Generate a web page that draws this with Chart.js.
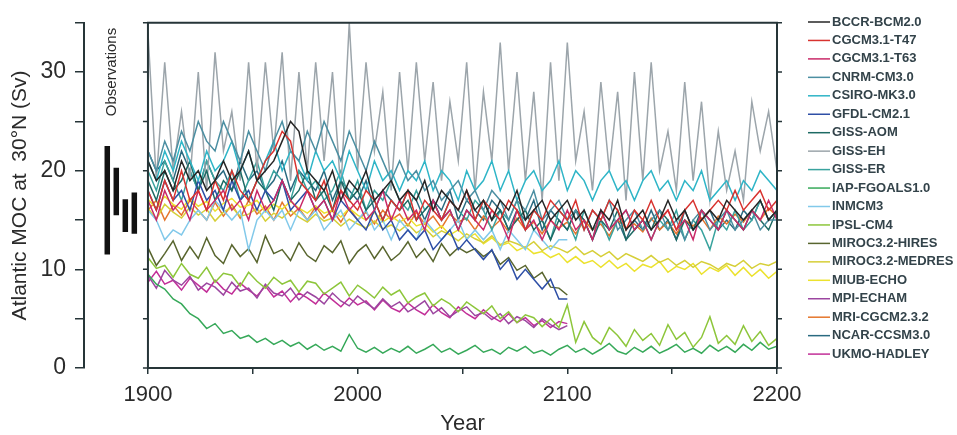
<!DOCTYPE html>
<html>
<head>
<meta charset="utf-8">
<script src="https://cdn.jsdelivr.net/npm/chart.js@4.4.1/dist/chart.umd.min.js"></script>
<style>
  html, body { margin: 0; padding: 0; background: #fff; }
  #wrap { width: 957px; height: 435px; position: relative; }
</style>
</head>
<body>
<div id="wrap"><canvas id="grafico-moc"></canvas></div>
<script>
// séries anuais (passo de 4 anos a partir de 1900)
const MODELOS = ['BCCR-BCM2.0', 'CGCM3.1-T47', 'CGCM3.1-T63', 'CNRM-CM3.0', 'CSIRO-MK3.0', 'GFDL-CM2.1',
    'GISS-AOM', 'GISS-EH', 'GISS-ER', 'IAP-FGOALS1.0', 'INMCM3', 'IPSL-CM4', 'MIROC3.2-HIRES',
    'MIROC3.2-MEDRES', 'MIUB-ECHO', 'MPI-ECHAM', 'MRI-CGCM2.3.2', 'NCAR-CCSM3.0', 'UKMO-HADLEY'];

const ANO_INICIAL = 1900;
const PASSO = 4;
const X_TICKS = [1900, 1950, 2000, 2050, 2100, 2150, 2200];
const Y_TICKS_MAX = 35;

const BCCR = [21,19,20,18,21,19,20,18,19,21, 19,20,22,19,20,21,23,25,24,20, 19,18,20,17,19,18,20,17,18,19,
    17,18,17,19,16,18,17,16,18,16, 17,15,17,16,18,15,16,17,15,16, 17,15,16,14,16,15,17,14,15,16,
    14,15,17,15,16,14,15,16,15,17, 16,15,16,17,15,16];
const CGCM_T47 = [18,16,19,17,20,17,18,16,19,17, 20,18,17,19,21,22,24,23,19,18, 17,19,16,18,17,16,18,17,15,17,
    16,18,15,17,16,15,17,16,18,15, 17,16,15,17,16,14,16,15,17,16, 15,17,14,16,15,17,16,14,16,15,
    17,15,16,14,16,17,15,16,17,16, 18,16,17,18,16,17];
const CGCM_T63 = [17,15,18,16,17,15,18,16,17,18, 16,17,15,18,16,17,19,17,16,18, 16,17,15,18,16,17,15,16,18,15,
    17,15,16,14,17,15,16,14,16,15, 14,16,15,13,16,14,15,13,15,14, 16,14,15,13,16,14,15,16,14,15,
    13,15,16,14,15,13,16,15,14,16, 15,14,16,15,17,15];
const CNRM = [22,20,23,21,24,22,25,23,22,25, 23,21,24,22,20,23,25,22,21,24, 22,25,23,21,24,22,20,23,21,19,
    21,19,20,18,19,17,18,19,17,18, 16,18,17,15,17,16,18,15,16,17, 15,16,14,16,15,17,14,15,16,14,
    15,16,14,15,13,15,16,14,15,16, 14,15,16,14,15,15];
const CSIRO = [21,19,22,20,23,21,19,22,20,21, 23,20,22,19,21,23,20,22,21,19, 22,20,21,19,22,20,18,21,19,20,
    18,20,19,21,18,20,19,17,20,18, 19,21,18,20,17,19,20,18,19,21, 18,20,19,17,19,20,18,19,17,19,
    20,18,19,17,19,18,20,17,18,19, 17,19,18,20,19,18];
const GFDL = [18,16,19,17,18,16,19,17,18,16, 19,17,18,16,18,17,19,16,17,18, 16,17,15,17,16,15,14,16,14,15,
    13,14,13,14,12,13,14,12,13,12, 11,12,10,11,9,10,9,8,9,7, 7];
const GISS_AOM = [19,17,20,18,19,21,18,20,17,19, 18,20,17,19,18,16,19,17,18,20, 17,18,16,19,17,18,16,17,15,17,
    16,17,15,16,17,15,16,14,16,15, 17,15,16,14,15,16,14,15,13,15, 14,16,15,13,15,14,16,13,14,15,
    14,16,15,13,15,14,16,15,14,16, 15,14,16,15,14,16];
const GISS_EH = [34,19,31,20,26,19,30,18,32,22, 26,19,31,20,31,22,32,19,30,20, 31,21,30,18,35,20,31,22,28,18,
    30,20,31,21,29,19,27,21,31,18, 28,21,33,20,30,19,28,17,31,19, 33,21,26,18,29,20,28,17,30,19,
    31,20,24,18,29,19,27,17,24,18, 22,17,27,22,26,20];
const GISS_ER = [20,18,21,19,17,20,18,21,19,18, 20,17,19,21,18,20,19,17,20,18, 19,17,18,20,17,19,16,18,17,19,
    17,16,18,16,17,15,17,16,15,17, 16,14,16,15,17,14,16,15,13,16, 15,13,16,14,15,13,15,16,14,15,
    13,15,14,16,13,15,14,12,15,14, 16,14,15,17,15,16];
const IAP = [9.5,8.5,8,7,6.5,5.5,5,4,4.5,3.5, 3.8,3,3.3,2.6,3,2.4,2.8,2.2,2.6,1.9, 2.4,1.8,2.2,1.7,3.4,2,1.6,2.1,1.5,2,
    1.6,2.2,1.5,1.9,2.4,1.6,2,1.4,1.8,2.3, 1.6,1.9,1.4,2.1,1.7,2.2,1.5,1.8,1.3,1.9, 2.3,1.6,2,1.4,1.9,2.5,1.7,1.4,2.1,1.6,
    2.2,1.5,1.9,2.4,1.6,2,1.5,2.3,1.7,2.2, 1.6,2.4,1.8,2.6,1.9,2.2];
const INMCM = [16,15,13,14,13.5,15,16,15,17,16, 15,16,12,15,16,15,16,14,16,15, 16,14,15,16,14,15,16,14,15,13,
    15,14,13,15,14,13,14,15,13,14, 13,14,12,14,13,12,14,13,12,13, 13];
const IPSL = [11.2,10.1,10.4,9.2,10.6,9.5,9.1,10.2,8.7,9.6, 9.4,8.3,9.7,8.8,8.1,9.2,8.5,8.9,7.7,8.8,
    8.6,7.5,8.1,8.7,7.3,8.4,7.8,7.1,8.2,7.4, 7.9,6.6,7.2,7.6,6.3,7,6.5,5.7,6.7,6.1,
    5.5,6.3,5,5.7,4.6,5.4,5.1,4.2,5,4.1, 6.4,2.6,4.7,3.1,2.4,4.1,3.3,2.2,3.9,2.8,
    3.5,2.3,4.4,2.9,3.6,2.1,3.1,5.2,2.5,3.3, 2.4,4.3,2.7,3.7,2.3,3];
const MIROC_HI = [12.2,10.4,11.6,12.9,10.9,12.3,11.1,13.2,11.4,10.6, 12.5,11.3,12.1,10.7,13.4,11.6,12,10.9,12.7,11.4,
    10.8,12.4,11.7,12.9,10.6,11.8,12.5,11.1,12.3,10.9, 11.6,12.8,11.2,12.1,10.8,12.6,11.4,12.2,11.7,12.1,
    11.3,11.9,10.5,11.2,9.9,10.4,9.1,9.7,8.2,8.1, 7.4];
const MIROC_MED = [16.2,15.1,16.6,15.8,15.2,16.3,15.5,16.1,14.9,15.8, 16.3,15.4,15.6,16.2,14.9,15.7,15.2,16,15.3,14.8,
    15.6,14.9,15.2,14.4,15.1,14.6,14.2,14.9,14.1,14.5, 13.9,14.6,13.7,14.2,13.3,13.9,13.5,12.9,13.6,13.1,
    12.7,13.4,12.5,12.9,12.6,12.2,12.8,11.9,12.4,12.1, 11.7,12.3,11.5,11.9,11.3,11.8,11,11.6,11.2,10.8,
    11.4,10.7,11.1,10.4,10.9,10.2,10.8,10.5,10,10.6, 10.3,10.9,10.1,10.6,10.4,10.8];
const MIUB = [17.1,16.2,17.4,16.6,16.1,17.2,16.4,16.9,15.9,16.7, 17.2,16.3,16.5,17,15.8,16.6,16.1,16.9,16.2,15.7,
    16.4,15.7,16,15.3,16.2,15.5,15,15.8,14.8,15.4, 14.8,15.3,14.4,14.7,13.8,14.4,13.5,14,13.2,13.6,
    12.6,13.2,12.4,12.7,11.9,12.3,11.6,11.8,11.2,11.6, 10.7,11.3,10.6,10.9,10.2,10.9,10.1,10.6,9.8,10.5,
    10.2,10.8,9.7,10.3,10,10.6,9.5,10.2,9.8,10.4, 9.4,10.2,9.3,10,9.1,9.8];
const MPI = [9.4,8.1,9.9,8.9,8.4,9.3,7.9,8.6,8.2,7.4, 8.7,7.8,8.1,7.1,8.5,7.6,7.3,8.1,6.9,7.7,
    7.2,6.5,7.6,6.8,6.3,7.3,6.6,6,7,6.2, 6.7,5.7,6.2,6.8,5.5,6.1,5.2,5.8,6.2,5.3,
    5.6,4.9,5.5,4.5,5.2,4.8,4.1,5,4.4,3.9, 4.3];
const MRI = [16,17,15,16.5,15.5,17,16,15,16.8,15.4, 16.6,15.2,17,15.6,16.4,15,16.8,15.4,16.2,15, 16.4,15.2,16,14.8,16.2,15,15.8,14.6,16,15,
    15.6,14.4,15.8,14.6,15.4,14.2,15.6,14.8,15.2,14, 15.4,14.2,15,13.8,15.2,14,14.8,13.6,15,14.2, 14.8,13.6,15,14,14.6,13.4,15,14.2,14.6,13.8,
    15.2,14,14.8,13.6,15,14.4,15.2,14,15.4,14.6, 15.6,14.8,16,15,16.2,15.4];
const NCAR = [22,20,21,19,22,20,18,21,19,20, 18,21,19,20,18,19,21,18,20,19, 18,20,17,19,18,17,19,16,18,17,
    16,18,17,15,17,16,18,15,17,16, 15,17,16,14,16,15,17,14,16,15, 14,16,15,13,16,14,15,13,15,14,
    16,14,15,13,16,14,15,16,14,15, 14,16,15,17,15,16];
const UKMO = [8.7,9.8,8.5,8.9,7.9,9.1,8.4,7.7,8.9,8, 7.5,8.6,7.9,7.3,8.3,7.2,7.8,6.7,7.6,7.1,
    6.5,7.6,6.9,6.2,7.1,6.4,6.8,5.9,6.9,6.1, 5.7,6.6,5.9,5.4,6.4,5.6,5.1,6.2,5.5,5,
    5.9,5.2,4.7,5.5,4.6,5.1,4.3,4.8,4.1,4.7, 4.5];

const SERIES = [BCCR, CGCM_T47, CGCM_T63, CNRM, CSIRO, GFDL, GISS_AOM, GISS_EH, GISS_ER, IAP, INMCM, IPSL,
    MIROC_HI, MIROC_MED, MIUB, MPI, MRI, NCAR, UKMO];

// faixas observadas (Sv)
const OBS_MIN = [11.5, 15.5, 13.8, 13.6];
const OBS_MAX = [22.5, 20.3, 17.1, 17.8];

const CORES = ['#262626', '#d8332f', '#c92a68', '#4c8fa2', '#2fb5c7', '#2e4fa6', '#1d6a64', '#9ca5ab',
    '#39a39e', '#37a95a', '#82c9ea', '#8dc63b', '#58652e', '#d6cf38', '#ece22e', '#9c46a0', '#e5762c',
    '#2a6a80', '#c22f98'];

const COR_EIXO = '#263538';
const FONTE = 'Liberation Sans, Arial, sans-serif';

const datasets = SERIES.map(function(valores, i) {
    return {
        label: MODELOS[i],
        data: valores.map(function(v, k) { return { x: ANO_INICIAL + k * PASSO, y: v }; }),
        borderColor: CORES[i],
        borderWidth: 1.5,
        pointRadius: 0,
        tension: 0,
        fill: false
    };
});

// barras de observação, à esquerda do ano 1900
OBS_MIN.forEach(function(lo, i) {
    const xObs = 1880.6 + i * 4.3;
    datasets.push({
        label: 'obs' + i,
        data: [{ x: xObs, y: lo }, { x: xObs, y: OBS_MAX[i] }],
        borderColor: '#111',
        borderWidth: 5.5,
        borderCapStyle: 'butt',
        pointRadius: 0,
        fill: false
    });
});

const molduraPlugin = {
    id: 'moldura',
    afterDatasetsDraw(chart) {
        const ctx = chart.ctx;
        const x = chart.scales.x, y = chart.scales.y;
        const x0 = x.getPixelForValue(X_TICKS[0]);
        const x1 = x.getPixelForValue(X_TICKS[X_TICKS.length - 1]);
        const yb = y.getPixelForValue(0), yt = y.getPixelForValue(Y_TICKS_MAX);
        ctx.save();
        ctx.strokeStyle = COR_EIXO;
        ctx.lineWidth = 2;
        ctx.beginPath();
        ctx.moveTo(x0, yt); ctx.lineTo(x1, yt); ctx.lineTo(x1, yb); ctx.lineTo(x0, yb); ctx.closePath();
        ctx.stroke();
        ctx.lineWidth = 1.5;
        y.ticks.forEach(function(t) {
            const py = y.getPixelForValue(t.value);
            ctx.beginPath();
            ctx.moveTo(x0 - 5, py); ctx.lineTo(x0, py);
            ctx.moveTo(x1, py); ctx.lineTo(x1 + 5, py);
            ctx.stroke();
        });
        ctx.restore();
    },
    afterDraw(chart) {
        const ctx = chart.ctx;
        const x = chart.scales.x;
        const x0 = x.getPixelForValue(X_TICKS[0]);
        const x1 = x.getPixelForValue(X_TICKS[X_TICKS.length - 1]);
        ctx.save();
        // título do eixo x
        ctx.fillStyle = '#2b2b2b';
        ctx.font = '22px ' + FONTE;
        ctx.textAlign = 'center';
        ctx.textBaseline = 'middle';
        ctx.fillText('Year', (x0 + x1) / 2, 424);
        // rótulo das observações
        ctx.save();
        ctx.translate(112, 72);
        ctx.rotate(-Math.PI / 2);
        ctx.font = '15px ' + FONTE;
        ctx.fillText('Observations', 0, 0);
        ctx.restore();
        // legenda
        ctx.font = 'bold 13px ' + FONTE;
        ctx.textAlign = 'left';
        MODELOS.forEach(function(nome, i) {
            const ly = 22 + i * 18.45;
            ctx.strokeStyle = CORES[i];
            ctx.lineWidth = 1.5;
            ctx.beginPath();
            ctx.moveTo(808, ly); ctx.lineTo(830, ly);
            ctx.stroke();
            ctx.fillStyle = '#33434a';
            ctx.fillText(nome, 832, ly);
        });
        ctx.restore();
    }
};

new Chart(document.getElementById('grafico-moc'), {
    type: 'line',
    data: { datasets: datasets },
    options: {
        responsive: true,
        maintainAspectRatio: false,
        animation: false,
        layout: { padding: { top: 13, right: 180, left: 0, bottom: 0 } },
        plugins: { legend: { display: false }, tooltip: { enabled: false } },
        scales: {
            x: {
                type: 'linear',
                min: 1869.5,
                max: 2200,
                afterBuildTicks: function(scale) {
                    scale.ticks = X_TICKS.map(function(v) { return { value: v }; });
                },
                afterFit: function(scale) { scale.height = 67; },
                border: { display: false },
                grid: { drawOnChartArea: false, drawTicks: true, tickLength: 6, color: COR_EIXO, lineWidth: 1.5 },
                ticks: {
                    autoSkip: false,
                    maxRotation: 0,
                    padding: 8,
                    color: '#2b2b2b',
                    font: { family: FONTE, size: 22 },
                    callback: function(v) { return v % 100 === 0 ? String(v) : ''; }
                }
            },
            y: {
                min: 0,
                max: Y_TICKS_MAX,
                afterFit: function(scale) { scale.width = 84; },
                border: { display: true, color: COR_EIXO, width: 2 },
                grid: { drawOnChartArea: false, drawTicks: true, tickLength: 9, color: COR_EIXO, lineWidth: 1.5 },
                ticks: {
                    stepSize: 5,
                    autoSkip: false,
                    padding: 9,
                    color: '#2b2b2b',
                    font: { family: FONTE, size: 23 },
                    callback: function(v) { return v % 10 === 0 ? String(v) : ''; }
                },
                title: {
                    display: true,
                    text: 'Atlantic MOC at  30°N (Sv)',
                    color: '#2b2b2b',
                    font: { family: FONTE, size: 21 },
                    padding: { top: 8, bottom: 0 }
                }
            }
        }
    },
    plugins: [molduraPlugin]
});
</script>
</body>
</html>
